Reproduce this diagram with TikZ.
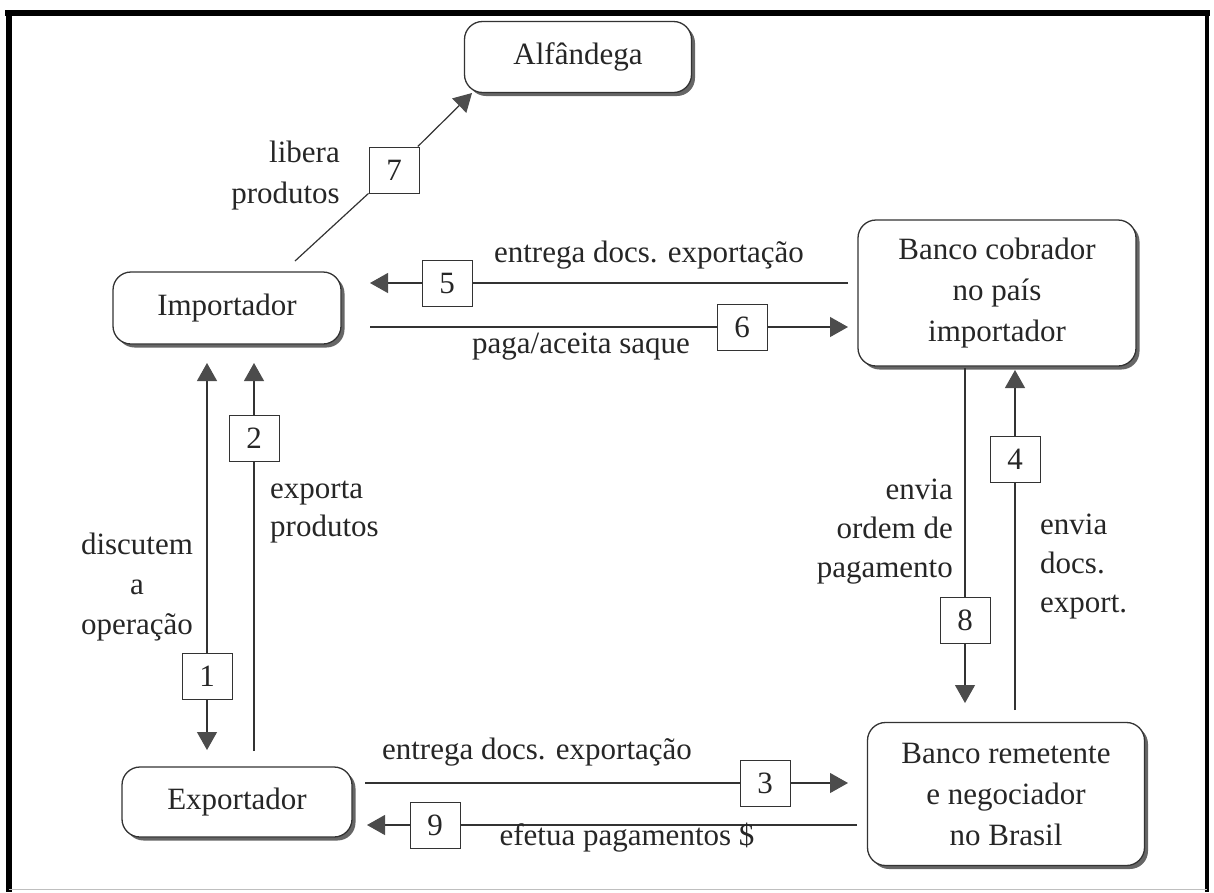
\documentclass[tikz,border=0pt]{standalone}
\usepackage{fontspec}
\setmainfont{Liberation Serif}
\usetikzlibrary{arrows.meta,shadows}
\begin{document}
\begin{tikzpicture}[x=1pt,y=-1pt,
  every node/.style={font=\fontsize{31}{41}\selectfont, text=black!85},
  party/.style={draw=black!80, line width=1.3pt, rounded corners=18pt, fill=white,
    align=center, inner sep=0pt,
    drop shadow={shadow xshift=3.5pt, shadow yshift=-3.5pt, fill=black!60, opacity=1}},
  stepno/.style={draw=black!80, line width=1pt, fill=white,
    minimum width=50pt, minimum height=46pt, inner sep=0pt},
  flow/.style={draw=black!80, line width=1.2pt},
  tip/.style={flow, -{Triangle[length=18pt,width=20pt,fill=black!70,color=black!70]}},
  lbl/.style={inner sep=0pt}
]
\useasboundingbox (0,0) rectangle (1214,892);

% page frame
\draw[line width=6pt] (5,13) -- (1210,13);
\draw[line width=6pt] (9,10) -- (9,892);
\draw[line width=4pt] (1207,11) -- (1207,892);
\draw[black!25, line width=1pt] (9,889) -- (1207,889);

% parties
\node[party, minimum width=227pt, minimum height=71pt] (alf) at (578,57) {Alfândega};
\node[party, minimum width=228pt, minimum height=72pt] (imp) at (227,308) {Importador};
\node[party, minimum width=278pt, minimum height=146pt] (bc) at (997,293)
  {Banco cobrador\\no país\\importador};
\node[party, minimum width=230pt, minimum height=70pt] (exp) at (237,802) {Exportador};
\node[party, minimum width=277pt, minimum height=143pt] (br) at (1006,794)
  {Banco remetente\\e negociador\\no Brasil};

% end points of the flows
\coordinate (a1) at (207,363);  \coordinate (b1) at (207,750);
\coordinate (a2) at (254,751);  \coordinate (b2) at (254,363);
\coordinate (a3) at (365,783);  \coordinate (b3) at (848,783);
\coordinate (a4) at (1015,710); \coordinate (b4) at (1015,370);
\coordinate (a5) at (848,283);  \coordinate (b5) at (370,283);
\coordinate (a6) at (370,327);  \coordinate (b6) at (848,327);
\coordinate (a7) at (295,261);  \coordinate (b7) at (472,93);
\coordinate (a8) at (965,368);  \coordinate (b8) at (965,703);
\coordinate (a9) at (857,825);  \coordinate (b9) at (367,825);

% numbered steps
\node[stepno] (n1) at (207,676) {1};
\node[stepno] (n2) at (254,438) {2};
\node[stepno] (n3) at (765,783) {3};
\node[stepno] (n4) at (1015,459) {4};
\node[stepno] (n5) at (447,283) {5};
\node[stepno] (n6) at (742,327) {6};
\node[stepno] (n7) at (394,170) {7};
\node[stepno] (n8) at (965,620) {8};
\node[stepno] (n9) at (435,825) {9};

% flows
\draw[tip] (n1) -- (a1);
\draw[tip] (n1) -- (b1);
\draw[flow] (a2) -- (n2); \draw[tip] (n2) -- (b2);
\draw[flow] (a3) -- (n3); \draw[tip] (n3) -- (b3);
\draw[flow] (a4) -- (n4); \draw[tip] (n4) -- (b4);
\draw[flow] (a5) -- (n5); \draw[tip] (n5) -- (b5);
\draw[flow] (a6) -- (n6); \draw[tip] (n6) -- (b6);
\draw[flow] (a7) -- (n7); \draw[tip] (n7) -- (b7);
\draw[flow] (a8) -- (n8); \draw[tip] (n8) -- (b8);
\draw[flow] (a9) -- (n9); \draw[tip] (n9) -- (b9);

% flow labels
\node[lbl, align=right, anchor=east] (l7) at (340,176) {libera\\produtos};
\node[lbl] (l5) at (649,255) {entrega docs. exportação};
\node[lbl] (l6) at (581,347) {paga/aceita saque};
\node[lbl, align=center, font=\fontsize{31}{40}\selectfont] (l1) at (137,587) {discutem\\a\\operação};
\node[lbl, align=left, anchor=west, font=\fontsize{31}{38}\selectfont] (l2) at (270,512) {exporta\\produtos};
\node[lbl, align=right, anchor=east, font=\fontsize{31}{39}\selectfont] (l8) at (953,532) {envia\\ordem de\\pagamento};
\node[lbl, align=left, anchor=west, font=\fontsize{31}{39}\selectfont] (l4) at (1040,567) {envia\\docs.\\export.};
\node[lbl] (l3) at (537,752) {entrega docs. exportação};
\node[lbl] (l9) at (627,838) {efetua pagamentos \$};
\end{tikzpicture}
\end{document}
